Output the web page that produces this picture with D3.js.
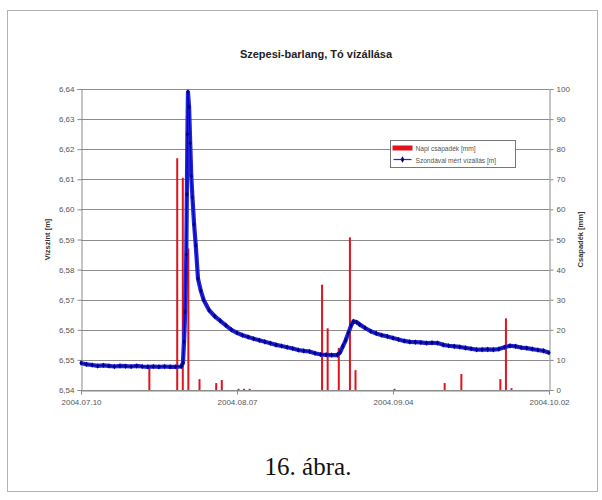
<!DOCTYPE html>
<html><head><meta charset="utf-8">
<script src="https://cdn.jsdelivr.net/npm/d3@7"></script>
<style>
html,body{margin:0;padding:0;background:#fff;}
svg{display:block;}
</style></head>
<body>
<script>
// ---- data ----
const startDate = "2004-07-10";
const xTickLabels = ["2004.07.10", "2004.08.07", "2004.09.04", "2004.10.02"];
const xTickDays = [0, 28, 56, 84];
const leftTicks = [6.54, 6.55, 6.56, 6.57, 6.58, 6.59, 6.60, 6.61, 6.62, 6.63, 6.64];
const rightTicks = [0, 10, 20, 30, 40, 50, 60, 70, 80, 90, 100];

// daily precipitation [mm]
const rainDays = [12, 17, 18, 19, 21, 24, 25, 28, 29, 30, 43, 44, 46, 48, 49, 56, 65, 68, 75, 76, 77];
const rainValues = [7.3, 77, 70.5, 47, 3.6, 2.3, 3.3, 0.4, 0.4, 0.4, 35, 20.5, 14, 50.7, 6.6, 0.4, 2.3, 5.3, 3.6, 23.8, 0.6];

// water level [m] (day offset from start, value)
const levelDays = [0,1,2,3,4,5,6,7,8,9,10,11,12,13,14,15,16,17,18,18.3,18.5,18.7,18.9,19.0,19.1,19.2,19.4,19.6,19.8,20.0,20.3,20.6,21.0,21.5,22,23,24,25,26,27,28,29,30,31,32,33,34,35,36,37,38,39,40,41,42,43,44,45,46,46.5,47,47.5,48,48.5,48.9,49.5,50,51,52,53,54,55,56,57,58,59,60,61,62,63,64,65,66,67,68,69,70,71,72,73,74,75,76,77,78,79,80,81,82,83,84];
const levelValues = [6.5490,6.5485,6.5483,6.5480,6.5482,6.5480,6.5478,6.5480,6.5479,6.5478,6.5480,6.5478,6.5477,6.5478,6.5477,6.5478,6.5477,6.5477,6.5478,6.5490,6.5560,6.5660,6.5850,6.6050,6.6250,6.6390,6.6340,6.6220,6.6110,6.6040,6.5950,6.5880,6.5770,6.5730,6.5700,6.5665,6.5645,6.5630,6.5615,6.5600,6.5590,6.5582,6.5576,6.5570,6.5565,6.5560,6.5555,6.5550,6.5546,6.5542,6.5538,6.5533,6.5530,6.5528,6.5522,6.5518,6.5517,6.5516,6.5516,6.5525,6.5545,6.5565,6.5590,6.5615,6.5628,6.5625,6.5618,6.5606,6.5595,6.5588,6.5582,6.5578,6.5573,6.5568,6.5563,6.5560,6.5559,6.5558,6.5556,6.5557,6.5556,6.5550,6.5547,6.5545,6.5543,6.5540,6.5537,6.5534,6.5534,6.5535,6.5534,6.5536,6.5542,6.5547,6.5545,6.5541,6.5539,6.5536,6.5533,6.5530,6.5524];

const titleText = "Szepesi-barlang, Tó vízállása";
const leftTitle = "Vízszint [m]";
const rightTitle = "Csapadék [mm]";
const legendLabels = ["Napi csapadék [mm]", "Szondával mért vízállás [m]"];
const caption = "16. ábra.";

// ---- chart ----
const W = 602, H = 500;
const svg = d3.select("body").append("svg").attr("width", W).attr("height", H);

// outer dotted frame
svg.append("rect").attr("x", 7.5).attr("y", 10.5).attr("width", 590).attr("height", 481)
  .attr("fill", "none").attr("stroke", "#666").attr("stroke-width", 1).attr("stroke-dasharray", "1,1");

const m = {left: 81, right: 549, top: 89, bottom: 390};
const t0 = d3.utcParse("%Y-%m-%d")(startDate);
const dayDate = d => new Date(t0.getTime() + d * 86400000);

const x = d3.scaleUtc().domain([dayDate(0), dayDate(84)]).range([m.left, m.right]);
const yL = d3.scaleLinear().domain([6.54, 6.64]).range([m.bottom, m.top]);
const yR = d3.scaleLinear().domain([0, 100]).range([m.bottom, m.top]);

const axisColor = "#8a8a8a";
const labelColor = "#555";
const fontTick = "Arial, 'Liberation Sans', sans-serif";

// gridlines
svg.append("g").selectAll("line").data(leftTicks).join("line")
  .attr("x1", m.left).attr("x2", m.right)
  .attr("y1", d => Math.round(yL(d)) + 0.5).attr("y2", d => Math.round(yL(d)) + 0.5)
  .attr("stroke", "#8c8c8c").attr("stroke-width", 1);

// left axis
const gL = svg.append("g").attr("transform", `translate(${m.left + 0.5},0)`)
  .call(d3.axisLeft(yL).tickValues(leftTicks).tickSize(4).tickPadding(3)
    .tickFormat(d => d3.format(".2f")(d).replace(".", ",")));
// right axis
const gR = svg.append("g").attr("transform", `translate(${m.right + 0.5},0)`)
  .call(d3.axisRight(yR).tickValues(rightTicks).tickSize(4).tickPadding(3).tickFormat(d3.format("d")));
// bottom axis
const gB = svg.append("g").attr("transform", `translate(0,${m.bottom + 0.5})`)
  .call(d3.axisBottom(x).tickValues(xTickDays.map(dayDate)).tickSize(4).tickPadding(6)
    .tickFormat((d, i) => xTickLabels[i]));

[gL, gR, gB].forEach(g => {
  g.select(".domain").attr("stroke", axisColor);
  g.selectAll(".tick line").attr("stroke", axisColor);
  g.selectAll(".tick text").attr("fill", labelColor).style("font-family", fontTick).style("font-size", "8px");
});
gB.selectAll(".tick text").attr("dy", "0.5em");

// rain bars
svg.append("g").selectAll("rect").data(rainDays.map((d, i) => ({d, v: rainValues[i]}))).join("rect")
  .attr("x", p => x(dayDate(p.d)) + 0.5)
  .attr("width", 2)
  .attr("y", p => yR(p.v))
  .attr("height", p => m.bottom - yR(p.v))
  .attr("fill", "#e0141c");

// water level line
const lvl = levelDays.map((d, i) => ({t: dayDate(d), v: levelValues[i]}));
const line = d3.line().x(p => x(p.t)).y(p => yL(p.v));
svg.append("path").datum(lvl).attr("d", line)
  .attr("fill", "none").attr("stroke", "#2424d8").attr("stroke-width", 4.2).attr("stroke-linejoin", "round");
svg.append("path").datum(lvl).attr("d", line)
  .attr("fill", "none").attr("stroke", "#0000c0").attr("stroke-width", 1);
svg.append("g").selectAll("path").data(lvl).join("path")
  .attr("d", d3.symbol(d3.symbolDiamond, 9)())
  .attr("transform", p => `translate(${x(p.t)},${yL(p.v)})`)
  .attr("fill", "#00007a");

// title
svg.append("text").attr("x", 316).attr("y", 58).attr("text-anchor", "middle")
  .style("font-family", fontTick).style("font-size", "11px").style("font-weight", "bold")
  .attr("fill", "#222").text(titleText);

// axis titles
svg.append("text").attr("transform", `translate(50,${(m.top + m.bottom) / 2}) rotate(-90)`)
  .attr("text-anchor", "middle").style("font-family", fontTick).style("font-size", "7.5px")
  .style("font-weight", "bold").attr("fill", "#333").text(leftTitle);
svg.append("text").attr("transform", `translate(583,${(m.top + m.bottom) / 2}) rotate(-90)`)
  .attr("text-anchor", "middle").style("font-family", fontTick).style("font-size", "7.5px")
  .style("font-weight", "bold").attr("fill", "#333").text(rightTitle);

// legend
const lg = svg.append("g").attr("transform", "translate(390.5,140.5)");
lg.append("rect").attr("width", 125).attr("height", 27).attr("fill", "#fff").attr("stroke", "#777");
lg.append("rect").attr("x", 2).attr("y", 5).attr("width", 20).attr("height", 5).attr("fill", "#e0141c");
lg.append("line").attr("x1", 3).attr("x2", 21).attr("y1", 19).attr("y2", 19).attr("stroke", "#2424d8").attr("stroke-width", 1.2);
lg.append("path").attr("d", d3.symbol(d3.symbolDiamond, 12)()).attr("transform", "translate(12,19)").attr("fill", "#00007a");
lg.selectAll("text").data(legendLabels).join("text")
  .attr("x", 25).attr("y", (d, i) => 10 + i * 12)
  .style("font-family", fontTick).style("font-size", "6.6px").attr("fill", "#555").text(d => d);

// caption
svg.append("text").attr("x", 308).attr("y", 475).attr("text-anchor", "middle")
  .style("font-family", "'Liberation Serif', 'DejaVu Serif', serif").style("font-size", "25px")
  .attr("fill", "#111").text(caption);
</script>
</body></html>
